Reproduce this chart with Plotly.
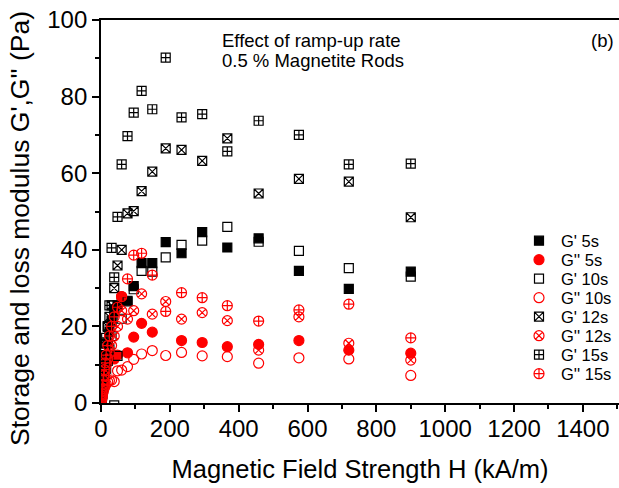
import plotly.graph_objects as go

H = [1.0, 1.3, 1.6, 2.0, 2.5, 3.1, 3.9, 4.9, 6.1, 7.7, 9.6, 12, 15, 19.6, 24.5, 30.7, 38.4,
     48, 60, 77, 95, 118, 149, 188, 234, 294, 367, 458, 575, 720, 900]

Gp_5s = [0.3, 0.6, 1.0, 1.5, 2.0, 2.7, 3.5, 4.5, 5.5, 7.0, 8.5, 10.5, 12.5, 15.5, 18.5, 21.5, 24.0,
         25.5, 27.0, 26.7, 30.5, 36.5, 36.5, 42.0, 39.1, 44.6, 40.6, 43.0, 34.5, 29.8, 34.3]
Gpp_5s = [0.5, 0.8, 1.2, 1.7, 2.3, 3.0, 3.8, 4.7, 5.8, 7.0, 8.3, 9.5, 10.5, 11.5, 12.5, 12.0, 11.5,
          12.5, 27.8, 13.1, 17.2, 20.8, 18.5, None, 16.3, 15.8, 14.7, 15.3, 16.3, 13.8, 13.0]
Gp_10s = [0.2, 0.4, 0.7, 1.0, 1.4, 1.8, 2.3, 3.0, 3.8, 4.8, 6.0, 7.5, 9.0, 11.0, 14.0, 17.5, -0.6,
          12.3, 22.0, 26.5, 29.7, 34.5, 34.3, 38.0, 41.3, 42.4, 46.0, 42.1, 39.7, 35.2, 33.0]
Gpp_10s = [0.3, 0.5, 0.8, 1.0, 1.3, 1.7, 2.0, 2.5, 3.0, 3.5, 4.0, 4.5, 5.0, 5.5, 5.8, 6.0, 5.6,
           8.4, 8.6, 9.5, 11.4, 12.8, 13.7, 12.4, 13.2, 12.3, 12.1, 10.4, 11.8, 11.5, 7.2]
Gp_12s = [0.4, 0.8, 1.2, 1.8, 2.5, 3.3, 4.2, 5.3, 6.6, 8.2, 10.0, 12.5, 15.5, 19.9, 22.5, 25.5, 30.0,
          35.9, 40.0, 49.5, 50.1, 55.3, 60.4, 66.5, 66.1, 63.2, 69.1, 54.7, 58.5, 57.8, 48.5]
Gpp_12s = [0.4, 0.7, 1.1, 1.5, 2.0, 2.6, 3.3, 4.1, 5.0, 6.0, 7.2, 8.5, 10.0, 11.5, 13.0, 15.0, 17.5,
           20.0, 24.1, 21.9, 24.1, 28.5, 23.2, 26.5, 21.9, 23.6, 21.5, 13.8, 22.5, 15.6, 11.2]
Gp_15s = [0.5, 1.0, 1.5, 2.0, 3.0, 4.0, 5.0, 6.5, 8.0, 10.0, 12.0, 14.5, 17.0, 20.1, 25.5, 40.5, 32.8,
          48.6, 62.3, 69.7, 75.8, 81.5, 76.7, 90.2, 74.6, 75.4, 65.7, 73.7, 70.0, 62.3, 62.5]
Gpp_15s = [0.5, 0.9, 1.3, 1.8, 2.4, 3.1, 3.9, 4.8, 5.9, 7.2, 8.7, 10.5, 12.5, 15.0, 17.5, 20.0, 22.5,
           25.0, 27.8, 32.4, 38.6, 39.1, 33.4, 23.9, 28.8, 27.5, 25.4, 21.4, 24.3, 25.8, 17.0]

series_names = ["G' 5s", "G'' 5s", "G' 10s", "G'' 10s", "G' 12s", "G'' 12s", "G' 15s", "G'' 15s"]
series_values = [Gp_5s, Gpp_5s, Gp_10s, Gpp_10s, Gp_12s, Gpp_12s, Gp_15s, Gpp_15s]
symbols = ["square", "circle", "square-open", "circle-open",
           "square-x-open", "circle-x-open", "square-cross-open", "circle-cross-open"]
colors = ["black", "red"] * 4
sizes = [9, 10] * 4

FONT = "Arial, Liberation Sans, sans-serif"

L, R, T, B = 101, 0, 20, 85
W, HGT = 619, 488
pw, ph = W - L - R, HGT - T - B
def px(xp):
    return (xp - L) / pw
def py(yp):
    return (HGT - B - yp) / ph

fig = go.Figure()
for name, ys, sym, col, sz in zip(series_names, series_values, symbols, colors, sizes):
    fig.add_trace(go.Scatter(
        x=H, y=ys, name=name, mode="markers", showlegend=False,
        marker=dict(symbol=sym, color=col, size=sz, line=dict(color=col, width=1.2)),
    ))

# Custom legend (fixed row spacing) drawn on an overlay axis spanning the plot area
leg_sym_x = 539
leg_text_x = 559
leg_y0 = 240.7
leg_dy = 19.0
for i, (name, sym, col, sz) in enumerate(zip(series_names, symbols, colors, sizes)):
    yy = leg_y0 + i * leg_dy
    fig.add_trace(go.Scatter(
        x=[px(leg_sym_x)], y=[py(yy)], xaxis="x2", yaxis="y2", mode="markers",
        showlegend=False, hoverinfo="skip",
        marker=dict(symbol=sym, color=col, size=sz, line=dict(color=col, width=1.2)),
    ))
    fig.add_annotation(text=name, x=px(leg_text_x), y=py(yy), xref="paper", yref="paper",
                       xanchor="left", yanchor="middle", showarrow=False,
                       font=dict(size=16.5, family=FONT))

fig.update_layout(
    width=W, height=HGT,
    margin=dict(l=L, r=R, t=T, b=B),
    paper_bgcolor="white", plot_bgcolor="white",
    font=dict(family=FONT, color="black"),
    showlegend=False,
    xaxis=dict(range=[0, 1505], showgrid=False, zeroline=False,
               showline=True, linecolor="black", linewidth=1.8, mirror=True,
               ticks="outside", ticklen=7, tickwidth=1.5, tickcolor="black",
               dtick=200, tick0=0, tickfont=dict(size=24, family=FONT), ticklabelstandoff=-4,
               minor=dict(ticks="outside", ticklen=4, dtick=100, tickcolor="black", tickwidth=1.5),
               title=dict(text="Magnetic Field Strength H (kA/m)", font=dict(size=25.5, family=FONT),
                          standoff=19)),
    yaxis=dict(range=[0, 100], showgrid=False, zeroline=False,
               showline=True, linecolor="black", linewidth=1.8, mirror=False,
               ticks="outside", ticklen=7, tickwidth=1.5, tickcolor="black",
               dtick=20, tick0=0, tickfont=dict(size=24, family=FONT),
               minor=dict(ticks="outside", ticklen=4, dtick=10, tickcolor="black", tickwidth=1.5)),
    xaxis2=dict(overlaying="x", range=[0, 1], visible=False, anchor="y2"),
    yaxis2=dict(overlaying="y", range=[0, 1], visible=False, anchor="x2"),
)

# y-axis title as rotated annotation (positioned as in the reference)
fig.add_annotation(text="Storage and loss modulus G',G'' (Pa)", x=px(20), y=py(229),
                   xref="paper", yref="paper", xanchor="center", yanchor="middle",
                   textangle=-90, showarrow=False, font=dict(size=26.5, family=FONT))

fig.add_annotation(text="Effect of ramp-up rate", x=px(220), y=py(40),
                   xref="paper", yref="paper", xanchor="left", yanchor="middle",
                   showarrow=False, font=dict(size=18.5, family=FONT))
fig.add_annotation(text="0.5 % Magnetite Rods", x=px(220), y=py(61),
                   xref="paper", yref="paper", xanchor="left", yanchor="middle",
                   showarrow=False, font=dict(size=18.5, family=FONT))
fig.add_annotation(text="(b)", x=px(616), y=py(40), xref="paper", yref="paper",
                   xanchor="right", yanchor="middle", showarrow=False, font=dict(size=18.5, family=FONT))

fig.write_html("out.html")
